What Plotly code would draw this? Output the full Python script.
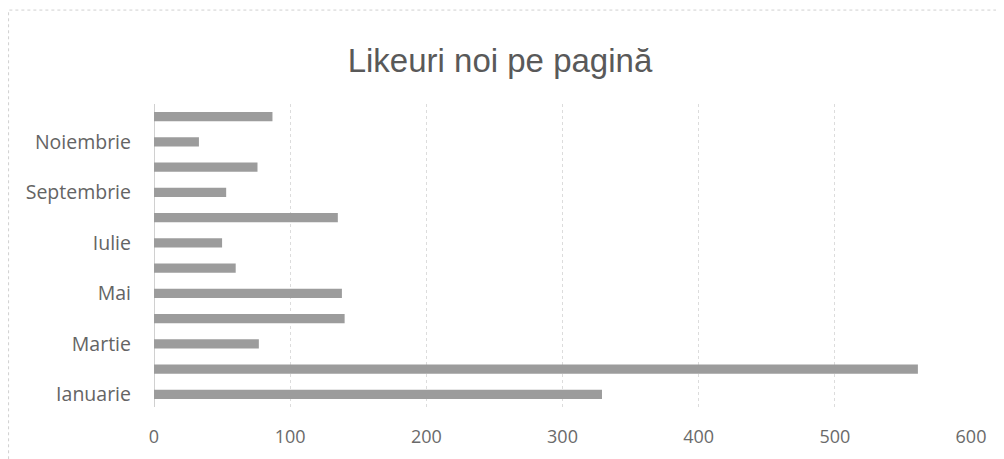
import plotly.graph_objects as go

# data
months = ["Ianuarie", "Februarie", "Martie", "Aprilie", "Mai", "Iunie",
          "Iulie", "August", "Septembrie", "Octombrie", "Noiembrie", "Decembrie"]
likes = [329, 561, 77, 140, 138, 60, 50, 135, 53, 76, 33, 87]
shown_labels = ["Ianuarie", "Martie", "Mai", "Iulie", "Septembrie", "Noiembrie"]
x_ticks = [0, 100, 200, 300, 400, 500, 600]

fig = go.Figure()

fig.add_trace(go.Bar(
    x=likes,
    y=months,
    orientation="h",
    marker=dict(color="#9c9c9c", line=dict(width=0)),
    hoverinfo="x+y",
    showlegend=False
))

# light dotted frame around the chart area (right/bottom run off the page)
fig.add_shape(
    type="rect", xref="paper", yref="paper",
    x0=-0.178, x1=1.2, y0=-0.4, y1=1.31,
    line=dict(color="#d0d0d0", width=1, dash="dot"),
    layer="below"
)

fig.update_layout(
    width=1004,
    height=459,
    title=dict(
        text="Likeuri noi pe pagină",
        x=0.49, xanchor="center",
        y=0.885, yanchor="middle",
        font=dict(family="Liberation Sans, Arial", size=33, color="#595959")
    ),
    xaxis=dict(
        range=[0, 600],
        tickvals=x_ticks,
        showgrid=True,
        gridcolor="#dcdcdc",
        griddash="dot",
        zeroline=True,
        zerolinecolor="#d0d0d0",
        zerolinewidth=1,
        showline=False,
        ticks="",
        ticklabelstandoff=17,
        tickfont=dict(family="Open Sans", size=18, color="#6a6a6a")
    ),
    yaxis=dict(
        categoryorder="array",
        categoryarray=months,
        tickvals=shown_labels,
        ticktext=shown_labels,
        showgrid=False,
        showline=False,
        ticks="",
        ticklabelstandoff=22,
        tickfont=dict(family="Open Sans", size=19.5, color="#646464")
    ),
    bargap=0.64,
    margin=dict(l=146, r=41, t=96, b=60),
    paper_bgcolor="white",
    plot_bgcolor="white"
)

fig.write_html("out.html")
